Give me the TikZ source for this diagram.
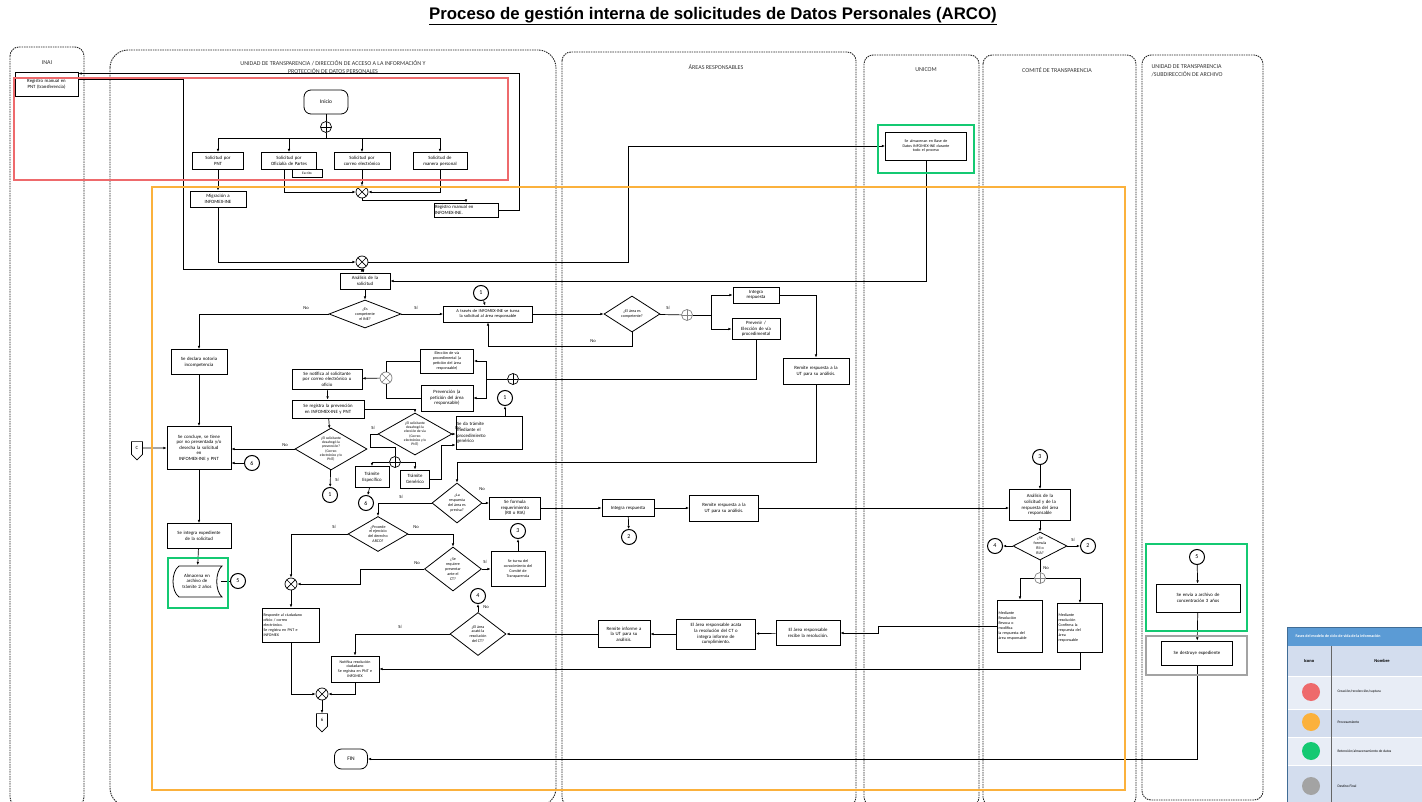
\documentclass[tikz,border=0pt]{standalone}
\usepackage{fontspec}
\setmainfont{Carlito}
\newfontfamily\ttlfont{Liberation Sans}
\usetikzlibrary{shapes.geometric,shapes.symbols,arrows.meta}

\definecolor{fasered}{HTML}{EE6A6C}
\definecolor{faseorange}{HTML}{FBB13C}
\definecolor{fasegreen}{HTML}{14C972}
\definecolor{fasegray}{HTML}{A3A3A3}
\definecolor{legblue}{HTML}{5B9BD5}
\definecolor{legrowa}{HTML}{D3DDEE}
\definecolor{legrowb}{HTML}{E8EDF6}

\newcommand{\bxf}{\fontsize{4.8}{5.6}\selectfont}
\newcommand{\smf}{\fontsize{4}{4.9}\selectfont}
\newcommand{\lanef}{\fontsize{6}{8}\selectfont}
\newcommand{\lblf}{\fontsize{4.6}{5.5}\selectfont}
\newcommand{\cnf}{\fontsize{6}{7}\selectfont}

\tikzset{
  box/.style={draw, fill=white, line width=0.8pt, align=center, inner sep=1pt, font=\bxf},
  sz/.style 2 args={minimum width=#1, minimum height=#2, text width=#1-2},
  term/.style={box, rounded corners=7},
  conn/.style={circle, draw, fill=white, line width=1pt, minimum size=15, inner sep=0pt, font=\cnf},
  dia/.style 2 args={diamond, draw, fill=white, line width=0.8pt, minimum width=#1, minimum height=#2, inner sep=0pt},
  dtxt/.style={align=center, font=\smf, inner sep=0pt},
  gx/.style={circle, draw=#1, fill=white, line width=0.7pt, minimum size=12, inner sep=0pt,
    path picture={\draw[#1] (path picture bounding box.north west) -- (path picture bounding box.south east)
      (path picture bounding box.north east) -- (path picture bounding box.south west);}},
  gx/.default=black,
  gp/.style={circle, draw=#1, fill=white, line width=0.7pt, minimum size=11, inner sep=0pt,
    path picture={\draw[#1] (path picture bounding box.north) -- (path picture bounding box.south)
      (path picture bounding box.west) -- (path picture bounding box.east);}},
  gp/.default=black,
  offp/.style={signal, signal to=south, draw, fill=white, line width=0.7pt, minimum width=11, minimum height=15, inner sep=1pt, font=\bxf},
  lane/.style={draw=black!85, line width=0.9pt, dash pattern=on 1.5pt off 0.9pt, rounded corners=9},
  lanetitle/.style={font=\lanef, align=center, text=black!80},
  flow/.style={line width=0.7pt, -{Latex[length=3.2pt,width=2.6pt]}},
  ln/.style={line width=0.7pt},
  lbl/.style={font=\lblf, inner sep=1pt},
  fase/.style={line width=2pt}
}

\begin{document}
\begin{tikzpicture}[x=1pt, y=-1pt]
\useasboundingbox (0,0) rectangle (1422,802);

\node[font=\ttlfont\bfseries\fontsize{16.8}{18}\selectfont] (titulo) at (713,16) {\underline{Proceso de gestión interna de solicitudes de Datos Personales (ARCO)}};

% carriles
\draw[lane] (10,47) rectangle (84,806);
\draw[lane, rounded corners=18] (110,50) rectangle (556,806);
\draw[lane] (562,52) rectangle (856,806);
\draw[lane] (864,55) rectangle (979,806);
\draw[lane] (983,55) rectangle (1136,806);
\draw[lane] (1142,55) rectangle (1263,800);
\node[lanetitle] (tinai) at (47,63) {INAI};
\node[lanetitle] (tut) at (333,67) {UNIDAD DE TRANSPARENCIA / DIRECCIÓN DE ACCESO A LA INFORMACIÓN Y\\PROTECCIÓN DE DATOS PERSONALES};
\node[lanetitle] (tar) at (716,67) {ÁREAS RESPONSABLES};
\node[lanetitle] (tuni) at (926,70) {UNICOM};
\node[lanetitle] (tct) at (1057,70) {COMITÉ DE TRANSPARENCIA};
\node[lanetitle, align=left, anchor=north west] (tarch) at (1148,61) {UNIDAD DE TRANSPARENCIA\\/SUBDIRECCIÓN DE ARCHIVO};

% INAI
\node[box, sz={63}{24}] (inai) at (46.5,84) {Registro manual en\\PNT (transferencia)};

% UT - entrada
\node[term, sz={44}{24}, font=\fontsize{5.5}{6}\selectfont] (inicio) at (326,102) {Inicio};
\node[gp] (gp1) at (326,127) {};
\node[box, sz={51}{17}] (spnt) at (218,161) {Solicitud por\\PNT};
\node[box, sz={55}{17}] (sofi) at (289,161) {Solicitud por\\Oficialía de Partes};
\node[box, sz={56}{17}] (scor) at (362,161) {Solicitud por\\correo electrónico};
\node[box, sz={54}{17}] (sper) at (440,161) {Solicitud de\\manera personal};
\node[box, sz={30}{8}, font=\fontsize{3.5}{4}\selectfont] (escrito) at (307,173) {Escrito};
\node[gx] (gx1) at (362,192) {};
\node[box, sz={56}{16}] (mig) at (218,199) {Migración a\\INFOMEX-INE};
\node[box, sz={64}{14}, align=left] (regm) at (466,210) {Registro manual en\\INFOMEX-INE.};
\node[gx] (gx2) at (362,262) {};

% UNICOM
\node[box, sz={81}{28}, font=\smf] (unicom) at (926,146) {Se almacenan en Base de\\Datos INFOMEX-INE durante\\todo el proceso};

% UT - analisis
\node[box, sz={50}{16}] (analisis) at (365,281) {Análisis de la\\solicitud};
\node[dia={72}{28}, label={[dtxt]center:{¿Es\\competente\\el INE?}}] (dcomp) at (365,314) {};
\node[conn] (c1a) at (481,293) {1};
\node[box, sz={89}{16}, font=\fontsize{4.4}{5.2}\selectfont] (turna) at (488,314) {A través de INFOMEX-INE se turna\\la solicitud al área responsable};
\node[box, sz={56}{25}] (incomp) at (199,362) {Se declara notoria\\incompetencia};

% areas responsables
\node[dia={56}{36}, label={[dtxt]center:{¿El área es\\competente?}}] (darea) at (632,314) {};
\node[gp=gray] (gp2) at (687,315) {};
\node[box, sz={46}{16}] (integra1) at (756,295) {Integra\\respuesta};
\node[box, sz={48}{21}] (prevenir) at (756,329) {Prevenir /\\Elección de vía\\procedimental};
\node[box, sz={66}{26}] (remite1) at (816,371) {Remite respuesta a la\\UT para su análisis.};

% UT - prevencion
\node[gp] (gp3) at (513,379) {};
\node[box, sz={53}{24}, font=\smf] (eleccion) at (447,361) {Elección de vía\\procedimental (a\\petición del área\\responsable)};
\node[box, sz={52}{26}] (prevencion) at (447,398) {Prevención (a\\petición del área\\responsable)};
\node[gx=gray] (gx3) at (386,378) {};
\node[box, sz={70}{20}] (notifica) at (327,379) {Se notifica al solicitante\\por correo electrónico u\\oficio};
\node[box, sz={72}{18}] (registra) at (328,409) {Se registra la prevención\\en INFOMEX-INE y PNT};
\node[dia={72}{42}, label={[dtxt, font=\fontsize{3.6}{4.3}\selectfont]center:{¿El solicitante\\desahogó la\\prevención?\\(Correo\\electrónico y/o\\PNT)}}] (dprev) at (331,449) {};
\node[dia={74}{42}, label={[dtxt, font=\fontsize{3.6}{4.3}\selectfont]center:{¿El solicitante\\desahogó la\\elección de vía\\(Correo\\electrónico y/o\\PNT)}}] (dvia) at (415,434) {};
\node[box, sz={64}{43}] (concluye) at (199,448) {Se concluye, se tiene\\por no presentada y/o\\desecha la solicitud\\en\\INFOMEX-INE y PNT};
\node[conn] (c6a) at (252,463) {6};
\node[offp] (offc) at (137,448) {C};
\node[conn] (c1b) at (330,495) {1};
\node[box, sz={66}{33}, align=left] (generico) at (489,433) {Se da trámite\\mediante el\\procedimiento\\genérico};
\node[conn] (c1c) at (505,398) {1};
\node[gp] (gp4) at (395,462) {};
\node[box, sz={34}{21}] (tesp) at (372,477) {Trámite\\Específico};
\node[box, sz={29}{18}] (tgen) at (415,479) {Trámite\\Genérico};
\node[conn] (c6b) at (366,503) {6};

% respuesta del area
\node[dia={50}{40}, label={[dtxt]center:{¿La\\respuesta\\del área es\\precisa?}}] (dprecisa) at (457,503) {};
\node[box, sz={51}{22}] (formula) at (515,508) {Se formula\\requerimiento\\(RII o RIA)};
\node[box, sz={52}{17}] (integra2) at (628,508) {Integra respuesta};
\node[conn] (c2a) at (629,537) {2};
\node[box, sz={69}{26}] (remite2) at (724,508) {Remite respuesta a la\\UT para su análisis.};

% comite
\node[conn] (c3a) at (1040,457) {3};
\node[box, sz={61}{31}] (analct) at (1040,505) {Análisis de la\\solicitud y de la\\respuesta del área\\responsable};
\node[dia={54}{28}, label={[dtxt]center:{¿Se\\formula\\RII o\\RIA?}}] (dformula) at (1040,546) {};
\node[conn] (c4a) at (995,546) {4};
\node[conn] (c2b) at (1088,546) {2};
\node[gp=gray] (gp5) at (1040,578) {};
\node[box, sz={45}{52}, align=left, font=\smf] (revoca) at (1020,626) {Mediante\\Resolución\\Revoca o\\modifica\\la respuesta del\\área responsable};
\node[box, sz={45}{49}, align=left, font=\smf] (confirma) at (1080,628) {Mediante\\resolución\\Confirma la\\respuesta del\\área\\responsable};

% cumplimiento
\node[box, sz={64}{25}] (recibe) at (808,633) {El área responsable\\recibe la resolución.};
\node[box, sz={79}{30}] (acata) at (716,634) {El área responsable acata\\la resolución del CT o\\integra informe de\\cumplimiento.};
\node[box, sz={52}{27}] (reminf) at (624,634) {Remite informe a\\la UT para su\\análisis.};
\node[dia={56}{43}, label={[dtxt]center:{¿El área\\acató la\\resolución\\del CT?}}] (dacato) at (478,634) {};
\node[conn] (c4b) at (478,596) {4};

% procedencia
\node[dia={60}{35}, label={[dtxt]center:{¿Procede\\el ejercicio\\del derecho\\ARCO?}}] (dprocede) at (378,534) {};
\node[dia={57}{44}, label={[dtxt]center:{¿Se\\requiere\\presentar\\ante el\\CT?}}] (dreq) at (453,569) {};
\node[box, sz={54}{35}, font=\smf] (turnact) at (518,569) {Se turna del\\conocimiento del\\Comité de\\Transparencia};
\node[conn] (c3b) at (518,531) {3};
\node[gx] (gx4) at (291,584) {};
\node[box, sz={57}{34}, align=left, font=\smf] (responde) at (291,625) {Responde al ciudadano\\oficio / correo\\electrónico.\\Se registra en PNT e\\INFOMEX};
\node[box, sz={48}{26}, font=\smf] (notres) at (355,669) {Notifica resolución\\ciudadano\\Se registra en PNT e\\INFOMEX};
\node[gx] (gx5) at (322,694) {};
\node[offp] (off6) at (322,720) {6};

% archivo
\node[box, sz={64}{25}] (integexp) at (199,536) {Se integra expediente\\de la solicitud};
\draw[line width=0.8pt, fill=white] (179,566) -- (222,566) .. controls (215,572) and (215,591) .. (222,597) -- (179,597) .. controls (171,591) and (171,572) .. (179,566);
\node[box, sz={47}{31}, draw=none, fill=none] (almacena) at (197,581) {Almacena en\\archivo de\\trámite 2 años};
\node[conn] (c5a) at (238,581) {5};
\node[conn] (c5b) at (1197,557) {5};
\node[box, sz={84}{28}] (envia) at (1198,598) {Se envía a archivo de\\concentración 3 años};
\node[box, sz={71}{24}] (destruye) at (1197,653) {Se destruye expediente};
\node[term, sz={33}{20}, font=\fontsize{5.5}{6}\selectfont] (fin) at (351,759) {FIN};

% conexiones
\coordinate (bar1) at (326,138);
\draw[ln] (inicio) -- (gp1);
\draw[ln] (gp1) -- (bar1);
\draw[flow] (bar1) -| (spnt);
\draw[flow] (bar1) -| (sofi);
\draw[flow] (bar1) -| (scor);
\draw[flow] (bar1) -| (sper);
\draw[flow] (spnt) -- (mig);
\draw[flow] ([xshift=-5pt]sofi.south) |- (gx1);
\draw[flow] (scor) -- (gx1);
\draw[flow] (sper) |- (gx1);
\draw[flow] (gx1) -- ++(0,8) -| (regm);
\coordinate (retorno) at (519,73.5);
\draw[flow] (regm) -| (retorno) -- (retorno -| inai.east);
\coordinate (bajada) at (183,79);
\draw[flow] (bajada -| inai.east) -- (bajada) -- (183,269) -| (gx2);
\draw[flow] (mig) |- (gx2);
\draw[flow] (gx2) -- (628,262) |- (unicom);
\draw[flow] (unicom) |- (analisis);
\draw[flow] (gx2) -- (analisis);
\draw[flow] (analisis) -- (dcomp);
\draw[flow] (dcomp) -- (turna);
\draw[flow] (c1a) -- (turna);
\draw[flow] (dcomp.west) -| (incomp);
\draw[flow] (turna) -- (darea);
\draw[flow] (darea.south) -- ++(0,14) -| (turna);
\draw[ln] (darea) -- (gp2);
\coordinate (sp2) at (711,315);
\draw[ln] (gp2) -- (sp2);
\draw[flow] (sp2) |- (integra1);
\draw[flow] (sp2) |- (prevenir);
\draw[flow] (integra1) -| (remite1);
\draw[ln] (prevenir) |- (gp3);
\coordinate (sp3) at (486,379);
\draw[ln] (gp3) -- (sp3);
\draw[flow] (sp3) |- (eleccion);
\draw[flow] (sp3) |- (prevencion);
\draw[ln] (eleccion) -| (gx3);
\draw[ln] (prevencion) -| (gx3);
\draw[flow] (gx3) -- (notifica);
\draw[flow] (notifica) -- (registra);
\draw[flow] (registra) -- (dprev);
\draw[flow] (registra) -| (dvia);
\draw[flow] (dprev.west) -- (dprev.west -| concluye.east);
\draw[flow] (dprev) -- (c1b);
\draw[flow] (dvia.east) -- (dvia.east -| generico.west);
\draw[flow] (generico.north -| c1c) -- (c1c);
\draw[ln] (dvia.west) -- ++(-7,0) -- ++(0,13) -| (gp4);
\draw[flow] (gp4) -| (tesp);
\draw[flow] (gp4) -| (tgen);
\coordinate (tg1) at (441,445);
\draw[flow] (tgen) -| (tg1) -- (tg1 -| generico.west);
\draw[flow] (tesp) -- (c6b);
\draw[flow] (c6a) -- (c6a -| concluye.east);
\draw[flow] (offc) -- (offc -| concluye.west);
\draw[flow] (incomp) -- (concluye);
\draw[flow] (concluye) -- (integexp);
\draw[flow] (integexp) -- (almacena);
\draw[ln] (almacena) -- (c5a);
\coordinate (r1) at (457,462);
\draw[flow] (remite1) |- (r1) -- (dprecisa);
\draw[flow] (dprecisa.east) -- (dprecisa.east -| formula.west);
\draw[flow] (formula) -- (integra2);
\draw[flow] (integra2) -- (c2a);
\draw[flow] (integra2) -- (remite2);
\draw[flow] (remite2) -- (remite2 -| analct.west);
\draw[flow] (c3a) -- (analct);
\draw[flow] (analct) -- (dformula);
\draw[flow] (dformula) -- (c4a);
\draw[flow] (dformula) -- (c2b);
\draw[ln] (dformula) -- (gp5);
\draw[flow] (gp5) -| (revoca);
\draw[flow] (gp5) -| (confirma);
\coordinate (rv1) at (878,626);
\draw[flow] (revoca) -- (rv1) |- (recibe);
\draw[flow] (recibe) -- (acata);
\draw[flow] (acata) -- (reminf);
\draw[flow] (reminf) -- (dacato);
\draw[flow] (dacato) -- (c4b);
\draw[flow] (dacato.west) -| (notres);
\draw[flow] (confirma) |- (notres);
\draw[flow] (dprecisa.west) -| (dprocede);
\draw[flow] (dprocede.west) -| (gx4);
\draw[flow] (dprocede.east) -| (dreq);
\draw[flow] (dreq) -- (turnact);
\draw[flow] (turnact) -- (c3b);
\coordinate (nq1) at (360,569);
\draw[flow] (dreq.west) -- (nq1) |- (gx4);
\draw[flow] (gx4) -- (responde);
\draw[flow] (responde) |- (gx5);
\draw[flow] (notres) |- (gx5);
\draw[flow] (gx5) -- (off6);
\draw[flow] (c5b) -- (envia);
\draw[flow] (envia) -- (destruye);
\draw[flow] (destruye) |- (fin);

% etiquetas Si / No
\node[lbl] (l1) at (306,308) {No};
\node[lbl] (l2) at (416,308) {Sí};
\node[lbl] (l3) at (593,341) {No};
\node[lbl] (l4) at (668,308) {Sí};
\node[lbl] (l5) at (285,445) {No};
\node[lbl] (l6) at (337,480) {Sí};
\node[lbl] (l7) at (458,428) {No};
\node[lbl] (l8) at (373,428) {Sí};
\node[lbl] (l9) at (482,489) {No};
\node[lbl] (l10) at (401,497) {Sí};
\node[lbl] (l11) at (334,527) {Sí};
\node[lbl] (l12) at (416,527) {No};
\node[lbl] (l13) at (417,563) {No};
\node[lbl] (l14) at (485,562) {Sí};
\node[lbl] (l15) at (486,607) {No};
\node[lbl] (l16) at (400,627) {Sí};
\node[lbl] (l17) at (1073,540) {Sí};
\node[lbl] (l18) at (1046,568) {No};

% fases
\draw[fase, fasered] (14,78) rectangle (508,180);
\draw[fase, faseorange] (152,187) rectangle (1125,790);
\draw[fase, fasegreen] (878,125) rectangle (974,173);
\draw[fase, fasegreen] (168,558) rectangle (228,608);
\draw[fase, fasegreen] (1146,544) rectangle (1247,631);
\draw[fase, fasegray, line width=2.5pt] (1146,636) rectangle (1247,675);

% leyenda
\begin{scope}
\clip (1280,620) rectangle (1422,802);
\fill[legblue] (1287,627) rectangle (1440,646);
\fill[legrowa] (1287,646) rectangle (1440,676);
\fill[legrowb] (1287,676) rectangle (1440,709);
\fill[legrowa] (1287,709) rectangle (1440,737);
\fill[legrowb] (1287,737) rectangle (1440,765);
\fill[legrowa] (1287,765) rectangle (1440,802);
\draw[white, line width=0.8pt] (1287,676) -- (1440,676) (1287,709) -- (1440,709) (1287,737) -- (1440,737) (1287,765) -- (1440,765);
\draw[black!60, line width=0.8pt] (1331,646) -- (1331,802);
\draw[legblue!70!black, line width=0.5pt] (1287,802) -- (1287,627) -- (1440,627);
\node[anchor=west, text=white, font=\bfseries\fontsize{4}{5}\selectfont] (legtit) at (1292,636) {Fases del modelo de ciclo de vida de la información};
\node[font=\bfseries\fontsize{4.5}{5}\selectfont] (legico) at (1309,661) {Icono};
\node[font=\bfseries\fontsize{4.5}{5}\selectfont] (legnom) at (1382,661) {Nombre};
\fill[fasered] (1311,692) circle (9);
\fill[faseorange] (1311,722) circle (9);
\fill[fasegreen] (1311,751) circle (9);
\fill[fasegray] (1311,786) circle (9);
\node[anchor=west, font=\fontsize{3.6}{4.5}\selectfont] (leg1) at (1334,692) {Creación/recolección/captura};
\node[anchor=west, font=\fontsize{3.6}{4.5}\selectfont] (leg2) at (1334,722) {Procesamiento};
\node[anchor=west, font=\fontsize{3.6}{4.5}\selectfont] (leg3) at (1334,751) {Retención/almacenamiento de datos};
\node[anchor=west, font=\fontsize{3.6}{4.5}\selectfont] (leg4) at (1334,786) {Destino Final};
\end{scope}
\end{tikzpicture}
\end{document}
